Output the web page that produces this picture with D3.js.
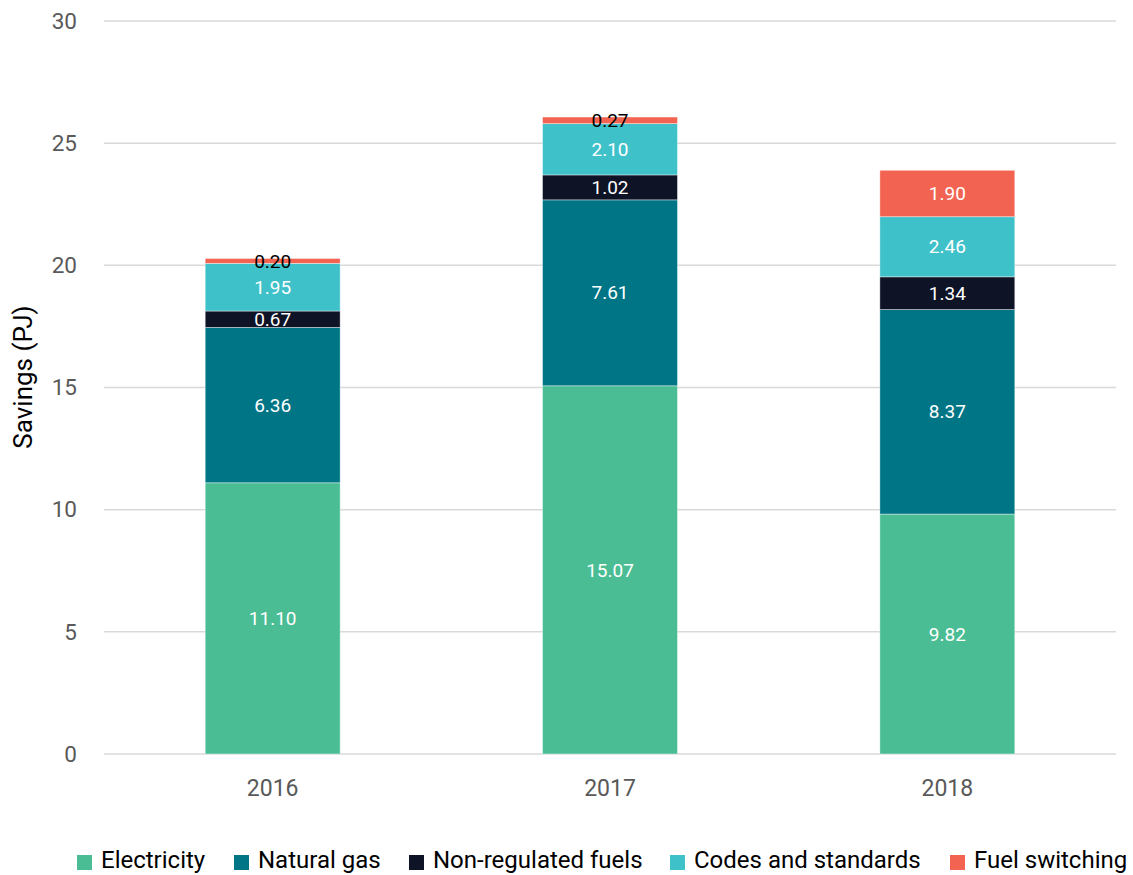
<!DOCTYPE html>
<html><head><meta charset="utf-8">
<script src="https://cdn.jsdelivr.net/npm/d3@7"></script>
<style>body{margin:0;background:#fff;font-family:Roboto,sans-serif;}</style>
</head><body>
<svg id="c" width="1133" height="875"></svg>
<script>
const years = ["2016","2017","2018"];
const seriesNames = ["Electricity","Natural gas","Non-regulated fuels","Codes and standards","Fuel switching"];
const electricity = [11.10, 15.07, 9.82];
const naturalGas = [6.36, 7.61, 8.37];
const nonRegulated = [0.67, 1.02, 1.34];
const codesStandards = [1.95, 2.10, 2.46];
const fuelSwitching = [0.20, 0.27, 1.90];
const colors = ["#4bbd94","#007585","#0e1326","#3fc1c9","#f26451"];
const yTicks = [0,5,10,15,20,25,30];

const seriesVals = [electricity, naturalGas, nonRegulated, codesStandards, fuelSwitching];
const rows = years.map((y,i)=>{const r={year:y}; seriesNames.forEach((s,j)=>r[s]=seriesVals[j][i]); return r;});
const stack = d3.stack().keys(seriesNames)(rows);

const svg = d3.select("#c");
const x = d3.scaleBand().domain(years).range([104,1116]).paddingInner(0.6).paddingOuter(0.3);
const y = d3.scaleLinear().domain([0,30]).range([754,21]);

// grid
svg.append("g").selectAll("line").data(yTicks).join("line")
  .attr("x1",104).attr("x2",1116).attr("y1",d=>y(d)).attr("y2",d=>y(d))
  .attr("stroke","#d9d9d9").attr("stroke-width",1.5);

// y axis labels
const ya = svg.append("g").attr("transform","translate(77,0)")
  .call(d3.axisLeft(y).tickValues(yTicks).tickSize(0).tickPadding(0));
ya.select(".domain").remove();
ya.selectAll("text").attr("font-family","Roboto").attr("font-size",22.5).attr("fill","#595959");

// x axis labels
const xa = svg.append("g").attr("transform","translate(0,754)")
  .call(d3.axisBottom(x).tickSize(0).tickPadding(26));
xa.select(".domain").remove();
xa.selectAll("text").attr("font-family","Roboto").attr("font-size",23).attr("fill","#595959");

// bars
const g = svg.append("g");
stack.forEach((s,j)=>{
  g.append("g").selectAll("rect").data(s).join("rect")
    .attr("x",d=>x(d.data.year)).attr("width",x.bandwidth())
    .attr("y",d=>y(d[1])).attr("height",d=>y(d[0])-y(d[1]))
    .attr("fill",colors[j]).attr("stroke","rgba(255,255,255,0.5)").attr("stroke-width",0.8);
});
stack.forEach((s,j)=>{
  g.append("g").selectAll("text").data(s).join("text")
    .attr("x",d=>x(d.data.year)+x.bandwidth()/2)
    .attr("y",d=>(y(d[0])+y(d[1]))/2)
    .attr("dy","0.35em").attr("text-anchor","middle")
    .attr("font-family","Roboto").attr("font-size",19)
    .attr("fill",d=>(d[1]-d[0])<0.5?"#000":"#fff")
    .text(d=>(d[1]-d[0]).toFixed(2));
});

// y title
svg.append("text").attr("transform","translate(32,377) rotate(-90)")
  .attr("text-anchor","middle").attr("font-family","Roboto").attr("font-size",26).attr("fill","#000")
  .text("Savings (PJ)");

// legend
const legX = [77,234,409,670,950];
const leg = svg.append("g");
seriesNames.forEach((s,j)=>{
  leg.append("rect").attr("x",legX[j]).attr("y",855).attr("width",15).attr("height",15).attr("fill",colors[j]);
  leg.append("text").attr("x",legX[j]+24).attr("y",860).attr("dy","0.35em")
    .attr("font-family","Roboto").attr("font-size",24).attr("fill","#000").text(s);
});
</script>
</body></html>
